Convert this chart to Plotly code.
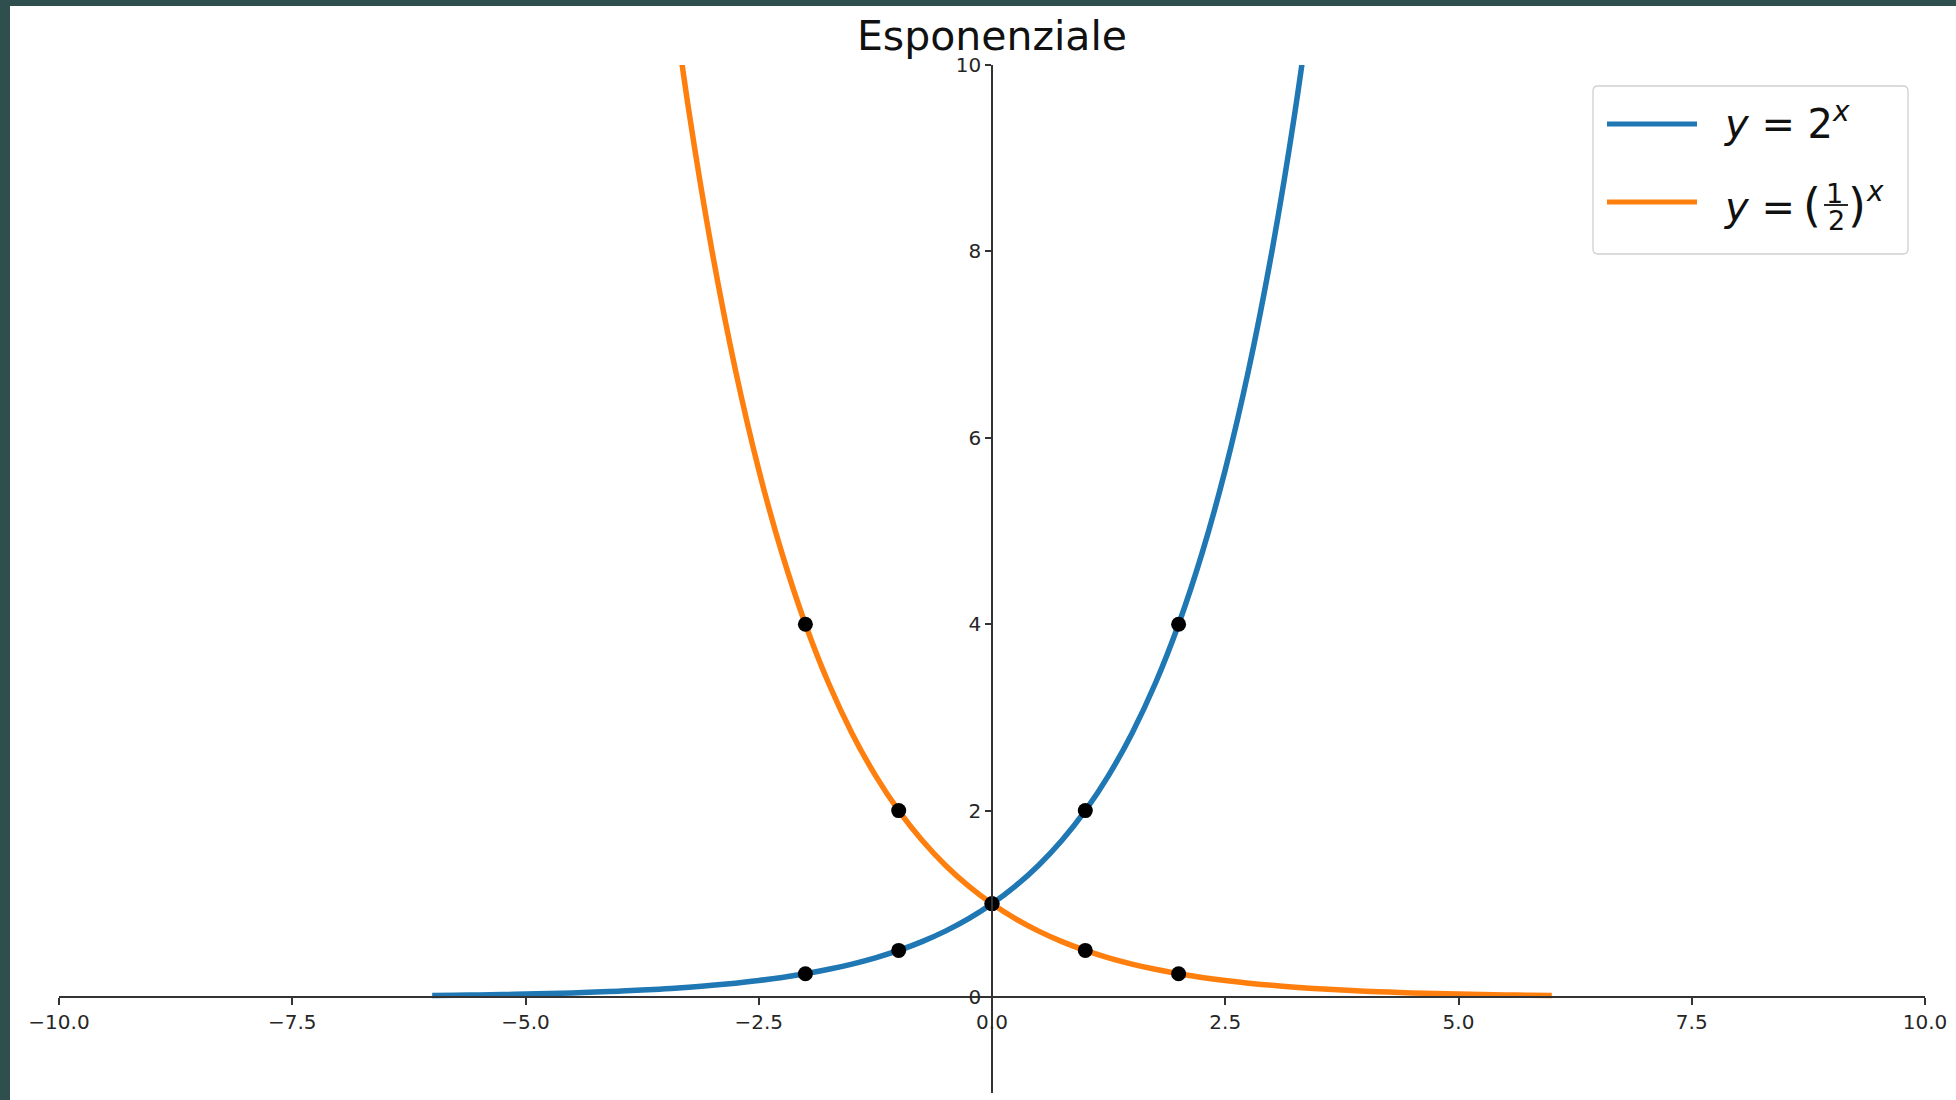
import plotly.graph_objects as go

# ---- data ----
blue_x = [-6, -5.75, -5.5, -5.25, -5, -4.75, -4.5, -4.25, -4, -3.75, -3.5, -3.25, -3,
          -2.75, -2.5, -2.25, -2, -1.75, -1.5, -1.25, -1, -0.75, -0.5, -0.25, 0,
          0.25, 0.5, 0.75, 1, 1.25, 1.5, 1.75, 2, 2.25, 2.5, 2.75, 3, 3.25, 3.5]
blue_y = [0.015625, 0.018581, 0.022097, 0.026278, 0.03125, 0.037163, 0.044194, 0.052556,
          0.0625, 0.074325, 0.088388, 0.105112, 0.125, 0.148651, 0.176777, 0.210224,
          0.25, 0.297302, 0.353553, 0.420448, 0.5, 0.594604, 0.707107, 0.840896, 1.0,
          1.189207, 1.414214, 1.681793, 2.0, 2.378414, 2.828427, 3.363586, 4.0,
          4.756828, 5.656854, 6.727171, 8.0, 9.513657, 11.313708]
orange_x = [-3.5, -3.25, -3, -2.75, -2.5, -2.25, -2, -1.75, -1.5, -1.25, -1, -0.75, -0.5,
            -0.25, 0, 0.25, 0.5, 0.75, 1, 1.25, 1.5, 1.75, 2, 2.25, 2.5, 2.75, 3, 3.25,
            3.5, 3.75, 4, 4.25, 4.5, 4.75, 5, 5.25, 5.5, 5.75, 6]
orange_y = [11.313708, 9.513657, 8.0, 6.727171, 5.656854, 4.756828, 4.0, 3.363586,
            2.828427, 2.378414, 2.0, 1.681793, 1.414214, 1.189207, 1.0, 0.840896,
            0.707107, 0.594604, 0.5, 0.420448, 0.353553, 0.297302, 0.25, 0.210224,
            0.176777, 0.148651, 0.125, 0.105112, 0.088388, 0.074325, 0.0625, 0.052556,
            0.044194, 0.037163, 0.03125, 0.026278, 0.022097, 0.018581, 0.015625]
pts_x = [-2, -1, 0, 1, 2]
pts_blue_y = [0.25, 0.5, 1, 2, 4]
pts_orange_y = [4, 2, 1, 0.5, 0.25]

x_ticks = [-10, -7.5, -5, -2.5, 0, 2.5, 5, 7.5, 10]
x_tick_labels = ["\u221210.0", "\u22127.5", "\u22125.0", "\u22122.5", "0.0", "2.5", "5.0", "7.5", "10.0"]
y_ticks = [0, 2, 4, 6, 8, 10]
y_tick_labels = ["0", "2", "4", "6", "8", "10"]

title_text = "Esponenziale"

# ---- layout geometry ----
W, H = 1956, 1100
ML, MR, MT, MB = 59, 31, 65, 7
PW, PH = W - ML - MR, H - MT - MB
XR = [-10, 10]
YR = [-1.03, 10]

def px(p):
    return (p - ML) / PW

def py(p):
    return 1 - (p - MT) / PH

BLUE = "#1f77b4"
ORANGE = "#ff7f0e"
FONT = "DejaVu Sans"
AX = "#333333"
TXT = "#111111"

fig = go.Figure()
fig.add_trace(go.Scatter(x=blue_x, y=blue_y, mode="lines", line=dict(color=BLUE, width=5.5, shape="spline"),
                         showlegend=False, hoverinfo="skip"))
fig.add_trace(go.Scatter(x=orange_x, y=orange_y, mode="lines", line=dict(color=ORANGE, width=5.5, shape="spline"),
                         showlegend=False, hoverinfo="skip"))
fig.add_trace(go.Scatter(x=pts_x, y=pts_blue_y, mode="markers", marker=dict(color="black", size=15),
                         showlegend=False))
fig.add_trace(go.Scatter(x=pts_x, y=pts_orange_y, mode="markers", marker=dict(color="black", size=15),
                         showlegend=False))

x_pos = (0 - YR[0]) / (YR[1] - YR[0])
y_pos = (0 - XR[0]) / (XR[1] - XR[0])

fig.update_layout(
    width=W, height=H,
    margin=dict(l=ML, r=MR, t=MT, b=MB, pad=0),
    paper_bgcolor="white", plot_bgcolor="white",
    font=dict(family=FONT, color="#262626"),
    title=dict(text=title_text, font=dict(family=FONT, size=41, color=TXT),
               x=0.5, xref="paper", xanchor="center", y=1 - 36 / H, yref="container", yanchor="middle"),
    xaxis=dict(range=XR, anchor="free", position=x_pos, showline=True, linecolor=AX, linewidth=1.5,
               ticks="outside", ticklen=7, tickwidth=1.5, tickcolor=AX,
               tickvals=x_ticks, ticktext=x_tick_labels, tickfont=dict(size=20, family=FONT, color="#262626"),
               showgrid=False, zeroline=False, fixedrange=True),
    yaxis=dict(range=YR, anchor="free", position=y_pos, showline=True, linecolor=AX, linewidth=1.5,
               ticks="outside", ticklen=6, tickwidth=1.5, tickcolor=AX,
               tickvals=y_ticks, ticktext=y_tick_labels, tickfont=dict(size=20, family=FONT, color="#262626"),
               showgrid=False, zeroline=False, fixedrange=True),
    showlegend=False,
)

# dark frame strips (top and left)
DARK = "#2f4f4f"
fig.add_shape(type="rect", xref="paper", yref="paper", x0=px(0), x1=px(10), y0=py(H), y1=py(0),
              fillcolor=DARK, line=dict(width=0), layer="above")
fig.add_shape(type="rect", xref="paper", yref="paper", x0=px(0), x1=px(W), y0=py(6), y1=py(0),
              fillcolor=DARK, line=dict(width=0), layer="above")

# custom legend box (rounded)
bx0, bx1, by0, by1 = 1593, 1908, 86, 254
r = 5
path = (f"M {px(bx0 + r)},{py(by0)} L {px(bx1 - r)},{py(by0)} "
        f"Q {px(bx1)},{py(by0)} {px(bx1)},{py(by0 + r)} L {px(bx1)},{py(by1 - r)} "
        f"Q {px(bx1)},{py(by1)} {px(bx1 - r)},{py(by1)} L {px(bx0 + r)},{py(by1)} "
        f"Q {px(bx0)},{py(by1)} {px(bx0)},{py(by1 - r)} L {px(bx0)},{py(by0 + r)} "
        f"Q {px(bx0)},{py(by0)} {px(bx0 + r)},{py(by0)} Z")
fig.add_shape(type="path", xref="paper", yref="paper", path=path,
              fillcolor="rgba(255,255,255,0.85)", line=dict(color="#d0d0d0", width=1.3), layer="above")
fig.add_shape(type="line", xref="paper", yref="paper", x0=px(1607), x1=px(1697), y0=py(124), y1=py(124),
              line=dict(color=BLUE, width=5), layer="above")
fig.add_shape(type="line", xref="paper", yref="paper", x0=px(1607), x1=px(1697), y0=py(202), y1=py(202),
              line=dict(color=ORANGE, width=5), layer="above")

LF = dict(family=FONT, size=40, color=TXT)
fig.add_annotation(xref="paper", yref="paper", x=px(1722), y=py(121), xanchor="left", yanchor="middle",
                   text="<i>y</i> = 2<sup><i>x</i></sup>", showarrow=False, font=LF)
fig.add_annotation(xref="paper", yref="paper", x=px(1722), y=py(207), xanchor="left", yanchor="middle",
                   text="<i>y</i> =", showarrow=False, font=LF)
fig.add_annotation(xref="paper", yref="paper", x=px(1801), y=py(205), xanchor="left", yanchor="middle",
                   text="(", showarrow=False, font=dict(family=FONT, size=46, color=TXT))
fig.add_annotation(xref="paper", yref="paper", x=px(1834), y=py(193), xanchor="center", yanchor="middle",
                   text="1", showarrow=False, height=22, borderpad=0,
                   font=dict(family=FONT, size=27, color=TXT))
fig.add_annotation(xref="paper", yref="paper", x=px(1836), y=py(220), xanchor="center", yanchor="middle",
                   text="2", showarrow=False, height=22, borderpad=0,
                   font=dict(family=FONT, size=27, color=TXT))
fig.add_shape(type="line", xref="paper", yref="paper", x0=px(1824), x1=px(1848), y0=py(205), y1=py(205),
              line=dict(color=TXT, width=1.8), layer="above")
fig.add_annotation(xref="paper", yref="paper", x=px(1846), y=py(205), xanchor="left", yanchor="middle",
                   text=")", showarrow=False, font=dict(family=FONT, size=46, color=TXT))
fig.add_annotation(xref="paper", yref="paper", x=px(1864), y=py(191), xanchor="left", yanchor="middle",
                   text="<i>x</i>", showarrow=False, font=dict(family=FONT, size=28, color=TXT))

fig.write_html(
    "out.html",
    config={"displayModeBar": False},
    post_script="document.body.style.margin='0';document.body.style.padding='0';"
                "document.documentElement.style.overflow='hidden';",
)
